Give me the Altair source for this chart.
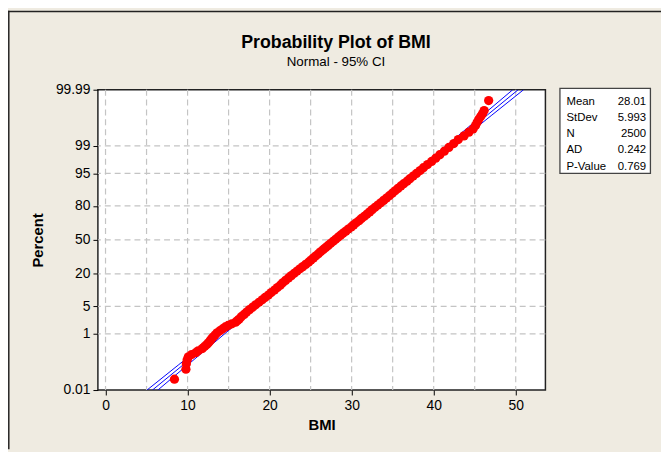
import altair as alt
import pandas as pd
from statistics import NormalDist

# ---------------- data ----------------
# probability-plot points: plotting position (percent) and BMI
pt_percent = [
    0.028, 0.068, 0.108, 0.148, 0.188, 0.225, 0.26, 0.30, 0.357, 0.42,
    0.48, 0.54, 0.62, 0.70, 0.80, 0.93, 1.07, 1.22, 1.39, 1.55,
    1.70, 1.88, 2.07, 2.3, 2.5, 2.85, 3.25, 3.7, 4.2, 4.8,
    5.4, 6.1, 6.9, 7.7, 8.6, 9.6, 10.7, 11.9, 13.1, 14.4,
    15.8, 17.3, 18.8, 20.4, 22.0, 23.7, 25.4, 27.2, 29.0, 30.9,
    32.8, 34.7, 36.6, 38.6, 40.6, 42.6, 44.6, 46.6, 48.6, 50.6,
    52.6, 54.6, 56.6, 58.6, 60.6, 62.6, 64.5, 66.4, 68.3, 70.2,
    72.0, 73.8, 75.6, 77.3, 79.0, 80.6, 82.1, 83.6, 85.0, 86.3,
    87.6, 88.8, 89.9, 90.9, 91.8, 92.7, 93.5, 94.3, 95.0, 95.7,
    96.3, 96.9, 97.4, 97.85, 98.25, 98.6, 98.9, 99.15, 99.35, 99.5,
    99.62, 99.7, 99.77, 99.82, 99.86, 99.89, 99.91, 99.932, 99.972,
]
pt_bmi = [
    8.4, 9.8, 9.85, 9.95, 10.1, 10.5, 11.0, 11.3, 11.8, 12.1,
    12.35, 12.55, 12.75, 12.9, 13.1, 13.35, 13.6, 13.95, 14.3, 14.6,
    14.95, 15.4, 15.85, 16.1, 16.3, 16.55, 16.9, 17.2, 17.55, 17.95,
    18.3, 18.7, 19.1, 19.45, 19.85, 20.2, 20.6, 20.95, 21.3, 21.6,
    21.95, 22.3, 22.65, 23.0, 23.35, 23.7, 24.05, 24.4, 24.75, 25.05,
    25.35, 25.65, 25.95, 26.25, 26.55, 26.85, 27.15, 27.45, 27.75, 28.05,
    28.35, 28.65, 28.95, 29.3, 29.6, 29.95, 30.25, 30.55, 30.9, 31.2,
    31.55, 31.85, 32.2, 32.5, 32.85, 33.2, 33.55, 33.9, 34.25, 34.6,
    34.95, 35.3, 35.65, 36.0, 36.35, 36.75, 37.1, 37.5, 37.9, 38.35,
    38.75, 39.25, 39.75, 40.25, 40.75, 41.3, 41.85, 42.45, 43.0, 43.7,
    44.3, 44.8, 45.1, 45.3, 45.5, 45.75, 45.95, 46.15, 46.7,
]

# fitted normal line and its 95% confidence limits (percent -> BMI)
line_percent = [0.01, 0.1, 1, 5, 20, 50, 80, 95, 99, 99.9, 99.99]
fit_bmi = [5.72, 9.49, 14.07, 18.15, 22.97, 28.01, 33.05, 37.87, 41.95, 46.53, 50.30]
ci_lo_bmi = [5.06, 8.93, 13.62, 17.79, 22.70, 27.78, 32.78, 37.51, 41.50, 45.97, 49.64]
ci_hi_bmi = [6.38, 10.05, 14.52, 18.51, 23.24, 28.25, 33.32, 38.23, 42.40, 47.09, 50.96]

# axes
y_tick_percent = [0.01, 1, 5, 20, 50, 80, 95, 99, 99.99]
x_tick_values = [0, 10, 20, 30, 40, 50]
x_grid_values = [0, 5, 10, 15, 20, 25, 30, 35, 40, 45, 50]
x_domain = [-0.93, 53.62]

# summary box
stat_labels = ["Mean", "StDev", "N", "AD", "P-Value"]
stat_values = ["28.01", "5.993", "2500", "0.242", "0.769"]

title_text = "Probability Plot of BMI"
subtitle_text = "Normal - 95% CI"

# ---------------- chart ----------------
FONT = "Liberation Sans"
nd = NormalDist()
y_tick_z = [nd.inv_cdf(p / 100) for p in y_tick_percent]

pts = pd.DataFrame({"percent": pt_percent, "bmi": pt_bmi})
n = len(line_percent)
lines = pd.DataFrame({
    "percent": line_percent * 3,
    "bmi": fit_bmi + ci_lo_bmi + ci_hi_bmi,
    "series": ["fit"] * n + ["lower"] * n + ["upper"] * n,
})
hgrid = pd.DataFrame({"percent": y_tick_percent[1:-1]})
vgrid = pd.DataFrame({"bmi": x_grid_values})
one = pd.DataFrame({"k": [0]})

zcalc = "quantileNormal(datum.percent / 100)"

xscale = alt.Scale(domain=x_domain, nice=False, zero=False)
yscale = alt.Scale(domain=[y_tick_z[0], y_tick_z[-1]], nice=False, zero=False)

xaxis = alt.Axis(values=x_tick_values, title="BMI", grid=False, domain=False,
                 tickSize=5, labelPadding=4, titlePadding=5)
yaxis = alt.Axis(values=y_tick_z,
                 labelExpr="format(round(cumulativeNormal(datum.value) * 10000) / 100, '~g')",
                 title="Percent", grid=False, domain=False, tickSize=5,
                 labelPadding=3, titlePadding=10)

X = alt.X("bmi:Q", scale=xscale, axis=xaxis)
Y = alt.Y("z:Q", scale=yscale, axis=yaxis)

grid_style = dict(color="#C4C4C4", strokeWidth=1.2, strokeDash=[6, 4])

vg = alt.Chart(vgrid).mark_rule(**grid_style).encode(x=X)
hg = alt.Chart(hgrid).transform_calculate(z=zcalc).mark_rule(**grid_style).encode(y=Y)

fit_lines = alt.Chart(lines).transform_calculate(z=zcalc).mark_line(
    color="#0000FF", strokeWidth=1, clip=True
).encode(x=X, y=Y, detail="series:N", order="percent:Q")

points = alt.Chart(pts).transform_calculate(z=zcalc).mark_circle(
    size=88, color="#FF0000", opacity=1
).encode(x=X, y=Y)

title = alt.Chart(one).mark_text(
    font=FONT, fontSize=18, fontWeight="bold", align="center", baseline="alphabetic", color="black"
).encode(x=alt.value(241), y=alt.value(-42), text=alt.value(title_text))
subtitle = alt.Chart(one).mark_text(
    font=FONT, fontSize=13.5, align="center", baseline="alphabetic", color="black"
).encode(x=alt.value(241), y=alt.value(-24), text=alt.value(subtitle_text))

box = alt.Chart(one).mark_rect(fill="white", stroke="#444444", strokeWidth=1.3).encode(
    x=alt.value(467.7), x2=alt.value(559.3), y=alt.value(-1.3), y2=alt.value(84.7)
)
box_labels = alt.Chart(one).mark_text(
    font=FONT, fontSize=11.5, align="left", baseline="alphabetic", lineHeight=16.4, color="black"
).encode(x=alt.value(474.3), y=alt.value(15.3), text=alt.value(stat_labels))
box_values = alt.Chart(one).mark_text(
    font=FONT, fontSize=11.5, align="right", baseline="alphabetic", lineHeight=16.4, color="black"
).encode(x=alt.value(555), y=alt.value(15.3), text=alt.value(stat_values))

frame_top = alt.Chart(one).mark_rule(color="#222222", strokeWidth=1.5).encode(
    x=alt.value(-91), x2=alt.value(570), y=alt.value(-79.2)
)
frame_left = alt.Chart(one).mark_rule(color="#222222", strokeWidth=1.5).encode(
    x=alt.value(-90.2), y=alt.value(-80), y2=alt.value(364)
)

chart = alt.layer(
    vg, hg, fit_lines, points, title, subtitle, box, box_labels, box_values,
    frame_top, frame_left
).properties(
    width=453, height=304,
    padding={"left": 91, "top": 80, "right": 117, "bottom": 60},
    autosize=alt.AutoSizeParams(type="none"),
    background="#EFEBE1",
).configure_view(
    fill="white", stroke="#222222", strokeWidth=1.5
).configure_axis(
    labelFont=FONT, labelFontSize=14, labelColor="black",
    tickColor="black", tickWidth=1,
    titleFont=FONT, titleFontSize=15, titleFontWeight="bold", titleColor="black",
)

chart.save("out.html", embed_options={"renderer": "svg", "actions": False})
